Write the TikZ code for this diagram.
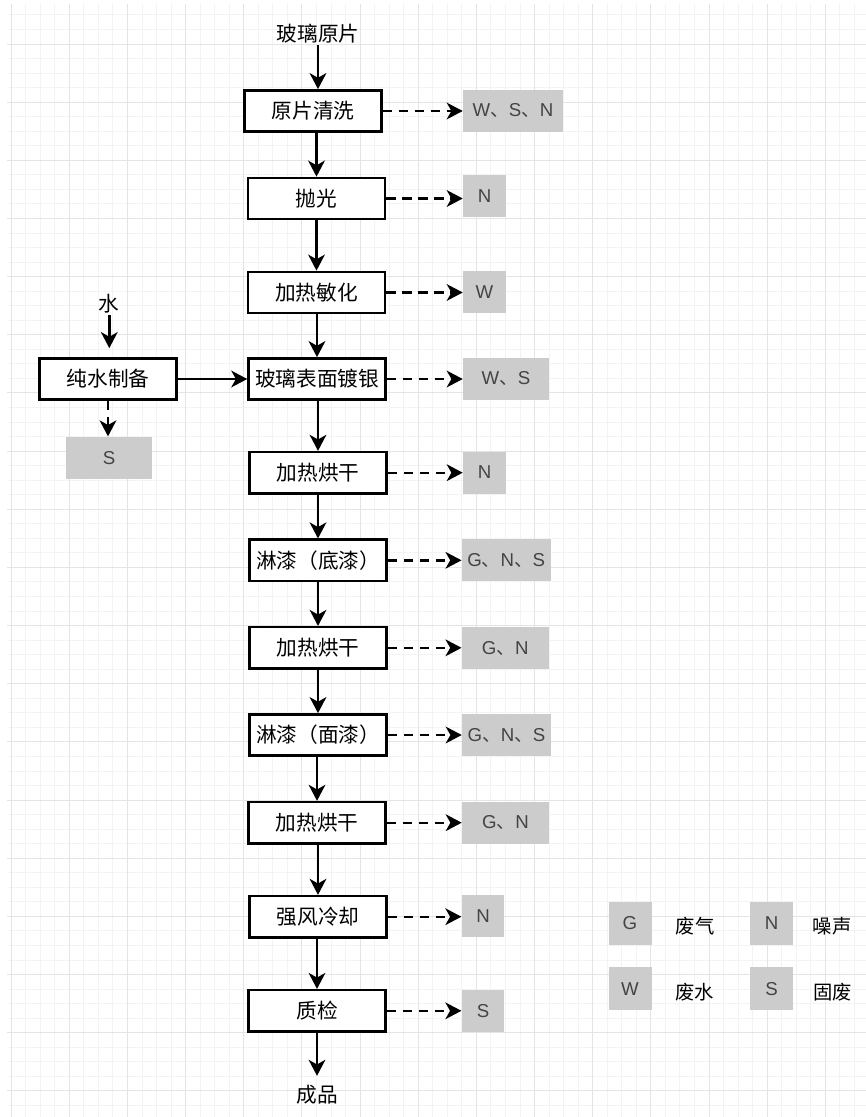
\documentclass[tikz,border=0pt]{standalone}
\usepackage{fontspec}
\setmainfont{Liberation Sans}
\newfontfamily\cjk{Noto Sans CJK SC}
\usetikzlibrary{arrows.meta}
\definecolor{boxgray}{HTML}{CCCCCC}
\definecolor{lettergray}{HTML}{444444}
\definecolor{gridminorc}{HTML}{F3F3F3}
\definecolor{gridmajorc}{HTML}{E4E4E4}
\begin{document}
\begin{tikzpicture}[x=0.75pt,y=-0.75pt,
  proc/.style={draw=black, line width=1.9pt, fill=white, minimum width=102.7pt, minimum height=30.9pt, inner sep=0pt, font=\cjk\fontsize{15.5pt}{18pt}\selectfont},
  waste/.style={fill=boxgray, minimum height=31.5pt, inner sep=0pt, text=lettergray, font=\fontsize{14pt}{17pt}\selectfont},
  txt/.style={inner sep=1pt, font=\cjk\fontsize{15.5pt}{18pt}\selectfont},
  legtxt/.style={inner sep=1pt, font=\cjk\fontsize{14.5pt}{17pt}\selectfont},
  flow/.style={line width=1.8pt, -{Stealth[length=12pt,width=12.5pt,inset=3.5pt]}},
  emit/.style={flow, dash pattern=on 7pt off 5pt},
  gridminor/.style={draw=gridminorc, line width=0.75pt},
  gridmajor/.style={draw=gridmajorc, line width=0.75pt},
]
\useasboundingbox (0,0) rectangle (866,1117);
\fill[white] (0,0) rectangle (866,1117);
% grid
\foreach \k in {0,...,58} { \draw[gridminor] ({11.14+14.54*\k},4) -- ({11.14+14.54*\k},1117); }
\foreach \j in {-2,...,73} { \draw[gridminor] (7,{44+14.54*\j}) -- (866,{44+14.54*\j}); }
\foreach \k in {0,4,...,56} { \draw[gridmajor] ({11.14+14.54*\k},4) -- ({11.14+14.54*\k},1117); }
\foreach \j in {0,4,...,72} { \draw[gridmajor] (7,{44+14.54*\j}) -- (866,{44+14.54*\j}); }

% main column
\node[txt] (src) at (318,34) {玻璃原片};
\node[proc] (p1) at (313,111) {原片清洗};
\node[proc] (p2) at (316.5,198.5) {抛光};
\node[proc] (p3) at (316.5,292.5) {加热敏化};
\node[proc] (p4) at (317,379) {玻璃表面镀银};
\node[proc] (p5) at (318,472.7) {加热烘干};
\node[proc] (p6) at (318,560.3) {淋漆（底漆）};
\node[proc] (p7) at (318,647.8) {加热烘干};
\node[proc] (p8) at (318,735) {淋漆（面漆）};
\node[proc] (p9) at (317,822.7) {加热烘干};
\node[proc] (p10) at (318,916.7) {强风冷却};
\node[proc] (p11) at (317,1010.8) {质检};
\node[txt] (prod) at (317,1095) {成品};

\draw[flow] (src.south) -- (src.south |- p1.north);
\draw[flow] (p1.south -| p2.north) -- (p2.north);
\draw[flow] (p2.south -| p3.north) -- (p3.north);
\draw[flow] (p3.south -| p4.north) -- (p4.north);
\draw[flow] (p4.south -| p5.north) -- (p5.north);
\draw[flow] (p5.south -| p6.north) -- (p6.north);
\draw[flow] (p6.south -| p7.north) -- (p7.north);
\draw[flow] (p7.south -| p8.north) -- (p8.north);
\draw[flow] (p8.south -| p9.north) -- (p9.north);
\draw[flow] (p9.south -| p10.north) -- (p10.north);
\draw[flow] (p10.south -| p11.north) -- (p11.north);
\draw[flow, shorten >=6pt] (p11.south) -- (p11.south |- prod.north);

% emissions
\node[waste, minimum width=75pt] (w1) at (513,111) {W{\cjk 、}S{\cjk 、}N};
\node[waste, minimum width=32.25pt] (w2) at (484.5,196.2) {N};
\node[waste, minimum width=32.25pt] (w3) at (484.5,292) {W};
\node[waste, minimum width=64.5pt] (w4) at (506,378.5) {W{\cjk 、}S};
\node[waste, minimum width=32.25pt] (w5) at (484.5,472.5) {N};
\node[waste, minimum width=66.75pt] (w6) at (506.3,560.3) {G{\cjk 、}N{\cjk 、}S};
\node[waste, minimum width=65.25pt] (w7) at (505.3,648) {G{\cjk 、}N};
\node[waste, minimum width=66.75pt] (w8) at (506.5,735) {G{\cjk 、}N{\cjk 、}S};
\node[waste, minimum width=65.25pt] (w9) at (505.5,822.5) {G{\cjk 、}N};
\node[waste, minimum width=32pt] (w10) at (483,916.3) {N};
\node[waste, minimum width=32pt] (w11) at (483,1011) {S};

\draw[emit] (p1.east) -- (p1.east -| w1.west);
\draw[emit] (p2.east) -- (p2.east -| w2.west);
\draw[emit] (p3.east) -- (p3.east -| w3.west);
\draw[emit] (p4.east) -- (p4.east -| w4.west);
\draw[emit] (p5.east) -- (p5.east -| w5.west);
\draw[emit] (p6.east) -- (p6.east -| w6.west);
\draw[emit] (p7.east) -- (p7.east -| w7.west);
\draw[emit] (p8.east) -- (p8.east -| w8.west);
\draw[emit] (p9.east) -- (p9.east -| w9.west);
\draw[emit] (p10.east) -- (p10.east -| w10.west);
\draw[emit] (p11.east) -- (p11.east -| w11.west);

% pure water branch
\node[txt] (water) at (109.3,304) {水};
\node[proc] (pure) at (108,379) {纯水制备};
\node[waste, minimum width=65pt, minimum height=32pt] (ws) at (109,458) {S};
\draw[flow, shorten >=6.75pt] (water.south) -- (water.south |- pure.north);
\draw[emit] (pure.south) -- (pure.south |- ws.north);
\draw[flow] (pure.east) -- (p4.west);

% legend
\node[waste, minimum width=32.25pt, minimum height=32.25pt] (lg) at (630,923.3) {G};
\node[legtxt] (lgt) at (695,926) {废气};
\node[waste, minimum width=32.25pt, minimum height=32.25pt] (ln) at (771.7,923.3) {N};
\node[legtxt] (lnt) at (832,926) {噪声};
\node[waste, minimum width=32.25pt, minimum height=32.25pt] (lw) at (630,988.7) {W};
\node[legtxt] (lwt) at (694.5,991.7) {废水};
\node[waste, minimum width=32.25pt, minimum height=32.25pt] (ls) at (771.7,988.7) {S};
\node[legtxt] (lst) at (832.5,991.7) {固废};
\end{tikzpicture}
\end{document}
